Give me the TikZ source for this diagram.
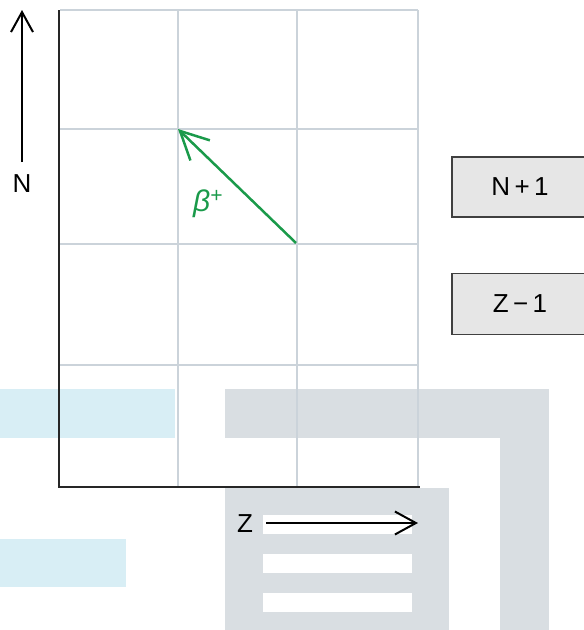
\documentclass[tikz,border=0pt]{standalone}
\usepackage{fontspec}
\setmainfont{Liberation Sans}
\usetikzlibrary{positioning,arrows.meta}
\definecolor{gridline}{HTML}{CBD3DA}
\definecolor{markblue}{HTML}{D8EEF5}
\definecolor{markgray}{HTML}{D9DEE2}
\definecolor{betagreen}{HTML}{1A9A4A}
\definecolor{boxfill}{HTML}{E6E6E6}

\begin{document}
\begin{tikzpicture}[x=1pt, y=-1pt, every node/.style={align=center, font=\fontsize{26}{30}\selectfont}]
\useasboundingbox (0,0) rectangle (584,630);
% background marks
\fill[markblue] (0,389) rectangle (175,438);
\fill[markblue] (0,539) rectangle (126,587);
\fill[markgray] (225,389) rectangle (549,438);
\fill[markgray] (500,438) rectangle (549,630);
\fill[markgray] (225,488) rectangle (449,630);
\foreach \by in {515,554,593}
  \fill[white] (263,\by) rectangle (412,\by+19);
% grid
\foreach \gx in {178,297,418}
  \draw[gridline, line width=1.5pt] (\gx,10) -- (\gx,487);
\foreach \gy in {10,129,244,365}
  \draw[gridline, line width=1.5pt] (60,\gy) -- (418,\gy);
\draw[black!85, line width=2.5pt] (59,10) -- (59,487) -- (420,487);
% axes labels
\coordinate (nbot) at (22,162);
\coordinate (ntop) at (22,10);
\draw[-{Straight Barb[length=20pt,width=22pt]}, line width=2pt] (nbot) -- (ntop);
\node (nlabel) at (22,184) {N};
\coordinate (zleft) at (266,523);
\coordinate (zright) at (418,523);
\node (zlabel) at (245,524) {Z};
\draw[-{Straight Barb[length=21pt,width=23pt]}, line width=2pt] (zleft) -- (zright);
% decay
\coordinate (parent) at (296,243);
\coordinate (daughter) at (178,129);
\draw[-{Straight Barb[length=28pt,width=28pt]}, betagreen, line width=2.5pt] (parent) -- (daughter);
\node[betagreen, font=\fontsize{30}{34}\selectfont\itshape] (betalabel) at (208,204) {β\textsuperscript{+}};
% changes
\node[draw=black!75, line width=1.5pt, fill=boxfill, minimum width=136pt, minimum height=60pt] (nplus) at (520,187) {N\,+\,1};
\node[draw=black!75, line width=1.5pt, fill=boxfill, minimum width=136pt, minimum height=61pt,
      below=55pt of nplus] (zminus) {Z\,−\,1};
\end{tikzpicture}
\end{document}
